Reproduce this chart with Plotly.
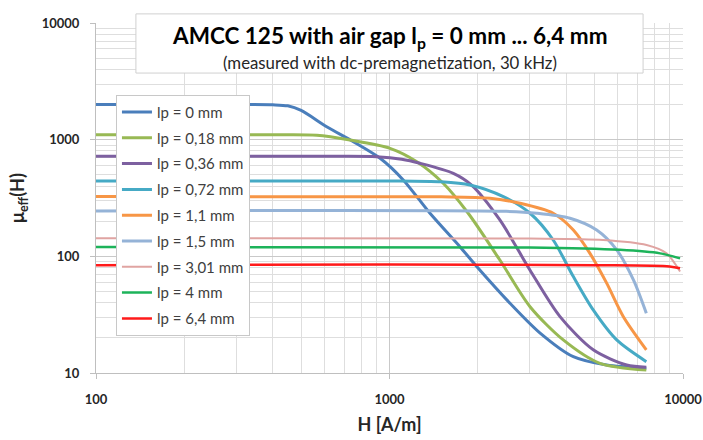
import plotly.graph_objects as go

# ---- data ----
names = ["lp = 0 mm", "lp = 0,18 mm", "lp = 0,36 mm", "lp = 0,72 mm", "lp = 1,1 mm",
         "lp = 1,5 mm", "lp = 3,01 mm", "lp = 4 mm", "lp = 6,4 mm"]

H_0 = [100, 300, 400, 450, 500, 611, 753, 929, 1114, 1374, 1738, 1982, 2642, 3260, 4230, 5495, 7500]
mu_0 = [2000, 2000, 1990, 1950, 1780, 1290, 961, 693, 452, 234, 121, 82, 37, 22, 13.8, 11.7, 11.0]

H_018 = [100, 400, 565, 733, 1004, 1239, 1524, 1854, 2377, 3012, 3909, 5212, 7500]
mu_018 = [1100, 1100, 1090, 993, 843, 647, 423, 234, 93, 37, 19.2, 12.1, 10.6]

H_036 = [100, 600, 903, 1100, 1270, 1650, 1900, 2377, 3012, 3810, 4944, 6427, 7500]
mu_036 = [720, 720, 715, 680, 628, 515, 410, 205, 76, 30.4, 15.8, 11.7, 11.2]

H_072 = [100, 1000, 1500, 1879, 2443, 3012, 3612, 4230, 4944, 5944, 7500]
mu_072 = [443, 443, 435, 409, 325, 234, 138, 67, 34.7, 19.2, 12.5]

H_11 = [100, 1500, 2200, 2786, 3612, 4230, 4819, 5495, 6263, 7500]
mu_11 = [325, 324, 315, 285, 234, 168, 106, 58.9, 30.4, 15.8]

H_15 = [100, 2500, 3177, 4122, 5080, 5944, 6778, 7500]
mu_15 = [245, 243, 234, 212, 168, 113.6, 62.8, 32.5]

H_301 = [100, 3000, 5345, 7516, 8790, 9772]
mu_301 = [143, 142, 138, 125, 106, 74]

H_4 = [100, 3000, 6095, 8356, 9772]
mu_4 = [120, 119, 113.6, 106, 96]

H_64 = [100, 1000, 5000, 9000, 9772]
mu_64 = [84, 85, 84, 82, 79]

x_ticks = [100, 1000, 10000]
y_ticks = [10, 100, 1000, 10000]

series_H = [H_0, H_018, H_036, H_072, H_11, H_15, H_301, H_4, H_64]
series_mu = [mu_0, mu_018, mu_036, mu_072, mu_11, mu_15, mu_301, mu_4, mu_64]

colors = ["#4A7EBB", "#98B954", "#7D60A0", "#46AAC5", "#F79646",
          "#95B3D7", "#E0A4A2", "#1DB35A", "#FF1A1A"]
widths = [3, 3, 3, 3, 3, 3, 2, 2.5, 2.5]

FONT = "Lato, 'Open Sans', sans-serif"

fig = go.Figure()
for i, (n, h, m) in enumerate(zip(names, series_H, series_mu)):
    fig.add_trace(go.Scatter(
        x=h, y=m, mode="lines", name=n, legendgroup=f"g{i}",
        line=dict(color=colors[i], width=widths[i], shape="spline", smoothing=0.8),
    ))

grid_major = "#C9C9C9"
grid_minor = "#DEDEDE"

fig.update_layout(
    width=703, height=440,
    margin=dict(l=96, r=20, t=23, b=67),
    paper_bgcolor="white", plot_bgcolor="white",
    font=dict(family=FONT, color="#262626"),
    showlegend=True,
    legend=dict(
        x=0.034, y=0.795, xanchor="left", yanchor="top",
        bgcolor="white", bordercolor="#C8C8C8", borderwidth=1,
        font=dict(size=15, color="#404040", family=FONT),
        tracegroupgap=3.3, traceorder="grouped",
    ),
    xaxis=dict(
        type="log", range=[2, 4], tickmode="array", tickvals=x_ticks,
        ticktext=[str(v) for v in x_ticks], automargin=False,
        showgrid=True, gridcolor=grid_major, gridwidth=1,
        minor=dict(dtick="D1", showgrid=True, gridcolor=grid_minor, ticks=""),
        showline=True, linecolor="#BFBFBF", linewidth=1,
        ticks="outside", ticklen=5, tickcolor="#BFBFBF",
        ticklabelstandoff=9,
        tickfont=dict(size=13, family=FONT, color="#262626", weight="bold"),
        title=dict(text="<b>H [A/m]</b>", font=dict(size=18, family=FONT, color="#262626"), standoff=12),
        zeroline=False,
    ),
    yaxis=dict(
        type="log", range=[1, 4], tickmode="array", tickvals=y_ticks,
        ticktext=[str(v) for v in y_ticks], automargin=False,
        showgrid=True, gridcolor=grid_major, gridwidth=1,
        minor=dict(dtick="D1", showgrid=True, gridcolor=grid_minor, ticks=""),
        showline=True, linecolor="#BFBFBF", linewidth=1,
        ticks="outside", ticklen=5, tickcolor="#BFBFBF",
        ticklabelstandoff=8,
        tickfont=dict(size=13, family=FONT, color="#262626", weight="bold"),
        title=dict(text="<b>μ<sub>eff</sub>(H)</b>", font=dict(size=18, family=FONT, color="#262626"), standoff=12),
        zeroline=False,
    ),
)

# title box
fig.add_shape(type="rect", xref="paper", yref="paper",
              x0=0.068, x1=0.932, y0=0.857, y1=1.026,
              fillcolor="white", line=dict(color="#D0D0D0", width=1), layer="above")
fig.add_annotation(xref="paper", yref="paper", x=0.501, y=0.96, xanchor="center", yanchor="middle",
                   text="<b>AMCC 125 with air gap l<sub>p</sub> = 0 mm ... 6,4 mm</b>",
                   showarrow=False, font=dict(size=22.5, family=FONT, color="#000000"))
fig.add_annotation(xref="paper", yref="paper", x=0.501, y=0.888, xanchor="center", yanchor="middle",
                   text="(measured with dc-premagnetization, 30 kHz)",
                   showarrow=False, font=dict(size=16.8, family=FONT, color="#262626"))

fig.write_html("out.html")
